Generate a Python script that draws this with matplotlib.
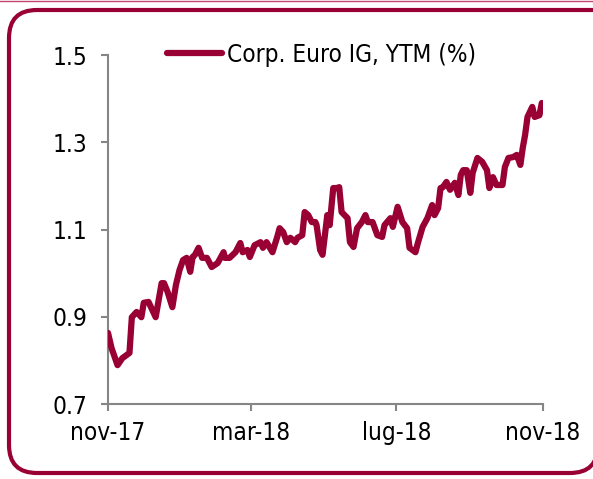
import pandas as pd
import matplotlib
matplotlib.use('Agg')
import matplotlib.pyplot as plt
from matplotlib.patches import PathPatch
from matplotlib.path import Path
from matplotlib.lines import Line2D
from matplotlib.transforms import IdentityTransform

plt.rcParams['font.family'] = 'DejaVu Sans'
plt.rcParams['font.stretch'] = 'condensed'

dates = ['2017-11-01', '2017-11-04', '2017-11-09', '2017-11-13', '2017-11-19', '2017-11-21',
         '2017-11-25', '2017-11-29', '2017-12-01', '2017-12-05', '2017-12-11', '2017-12-16',
         '2017-12-18', '2017-12-21', '2017-12-25', '2017-12-28', '2017-12-31', '2018-01-03',
         '2018-01-06', '2018-01-09', '2018-01-11', '2018-01-13', '2018-01-16', '2018-01-19',
         '2018-01-23', '2018-01-27', '2018-02-01', '2018-02-06', '2018-02-07', '2018-02-11',
         '2018-02-16', '2018-02-20', '2018-02-22', '2018-02-26', '2018-02-28', '2018-03-04',
         '2018-03-09', '2018-03-11', '2018-03-14', '2018-03-19', '2018-03-23', '2018-03-25',
         '2018-03-28', '2018-03-31', '2018-04-03', '2018-04-07', '2018-04-09', '2018-04-13',
         '2018-04-15', '2018-04-18', '2018-04-21', '2018-04-24', '2018-04-25', '2018-04-28',
         '2018-04-30', '2018-05-02', '2018-05-04', '2018-05-06', '2018-05-09', '2018-05-12',
         '2018-05-14', '2018-05-16', '2018-05-21', '2018-05-23', '2018-05-26', '2018-05-29',
         '2018-06-02', '2018-06-05', '2018-06-07', '2018-06-11', '2018-06-15', '2018-06-19',
         '2018-06-21', '2018-06-26', '2018-06-28', '2018-07-02', '2018-07-06', '2018-07-10',
         '2018-07-12', '2018-07-17', '2018-07-19', '2018-07-23', '2018-07-27', '2018-07-31',
         '2018-08-02', '2018-08-05', '2018-08-07', '2018-08-09', '2018-08-12', '2018-08-15',
         '2018-08-19', '2018-08-22', '2018-08-24', '2018-08-26', '2018-08-29', '2018-09-01',
         '2018-09-03', '2018-09-07', '2018-09-11', '2018-09-15', '2018-09-17', '2018-09-20',
         '2018-09-23', '2018-09-28', '2018-09-30', '2018-10-03', '2018-10-07', '2018-10-10',
         '2018-10-13', '2018-10-15', '2018-10-17', '2018-10-19', '2018-10-23', '2018-10-25',
         '2018-10-29', '2018-10-31']
ytm = [0.863, 0.828, 0.789, 0.805, 0.817, 0.899, 0.911, 0.899, 0.932, 0.934, 0.899, 0.977,
       0.977, 0.957, 0.922, 0.973, 1.007, 1.030, 1.035, 1.003, 1.037, 1.042, 1.058, 1.035,
       1.035, 1.014, 1.023, 1.048, 1.035, 1.035, 1.048, 1.069, 1.048, 1.053, 1.037, 1.064,
       1.071, 1.058, 1.071, 1.048, 1.083, 1.103, 1.094, 1.071, 1.081, 1.071, 1.081, 1.087,
       1.140, 1.133, 1.117, 1.117, 1.110, 1.053, 1.042, 1.087, 1.133, 1.110, 1.195, 1.195,
       1.197, 1.140, 1.126, 1.071, 1.060, 1.103, 1.117, 1.133, 1.117, 1.117, 1.087, 1.083,
       1.110, 1.126, 1.106, 1.152, 1.117, 1.103, 1.058, 1.048, 1.069, 1.106, 1.126, 1.156,
       1.133, 1.149, 1.195, 1.197, 1.209, 1.191, 1.207, 1.179, 1.225, 1.236, 1.236, 1.184,
       1.230, 1.264, 1.255, 1.236, 1.195, 1.220, 1.202, 1.202, 1.243, 1.264, 1.266, 1.271,
       1.248, 1.287, 1.317, 1.358, 1.381, 1.358, 1.362, 1.390]

series_name = 'Corp. Euro IG, YTM (%)'
tick_dates = ['2017-11-01', '2018-03-01', '2018-07-01', '2018-11-01']
tick_labels = ['nov-17', 'mar-18', 'lug-18', 'nov-18']
y_ticks = [0.7, 0.9, 1.1, 1.3, 1.5]

red = '#990033'
grey = '#868686'

fig = plt.figure(figsize=(5.93, 4.79), dpi=100)
ax = fig.add_axes([108 / 593, 1 - 404 / 479, 435 / 593, 349 / 479])

x = pd.to_datetime(dates)
ax.plot(x, ytm, color=red, lw=4.5, solid_capstyle='round', solid_joinstyle='round',
        label=series_name, zorder=3)

ax.set_xlim(pd.Timestamp('2017-11-01'), pd.Timestamp('2018-11-01'))
ax.set_ylim(0.7, 1.5)
ax.set_xticks(pd.to_datetime(tick_dates))
ax.set_xticklabels(tick_labels)
ax.set_yticks(y_ticks)
ax.set_yticklabels([f'{v:.1f}' for v in y_ticks])

for s in ['top', 'right']:
    ax.spines[s].set_visible(False)
for s in ['left', 'bottom']:
    ax.spines[s].set_color(grey)
    ax.spines[s].set_linewidth(1.5)
ax.tick_params(axis='both', direction='out', length=5, width=1.5, color=grey,
               labelsize=17.5, labelcolor='black')
ax.tick_params(axis='y', pad=10)
ax.tick_params(axis='x', pad=7)

ax.legend(loc='center', bbox_to_anchor=(0.49, 1.0), frameon=False, fontsize=17.5,
          handlelength=2.3, handletextpad=0.17, borderpad=0)

# frame: rounded on the left and bottom right, top edge runs straight off the picture
L, R, B, T, r = 9, 598, 6, 469, 28
verts = [(610, T), (L + r, T), (L, T), (L, T - r), (L, B + r), (L, B), (L + r, B),
         (R - r, B), (R, B), (R, B + r), (R, T + 10)]
codes = [Path.MOVETO, Path.LINETO, Path.CURVE3, Path.CURVE3, Path.LINETO, Path.CURVE3,
         Path.CURVE3, Path.LINETO, Path.CURVE3, Path.CURVE3, Path.LINETO]
frame = PathPatch(Path(verts, codes), transform=IdentityTransform(), fill=False,
                  ec=red, lw=3, joinstyle='round')
fig.patches.append(frame)
fig.lines.append(Line2D([0, 593], [478.5, 478.5], transform=IdentityTransform(),
                        color='#c2476f', lw=1))

fig.savefig('out.png', dpi=100)
